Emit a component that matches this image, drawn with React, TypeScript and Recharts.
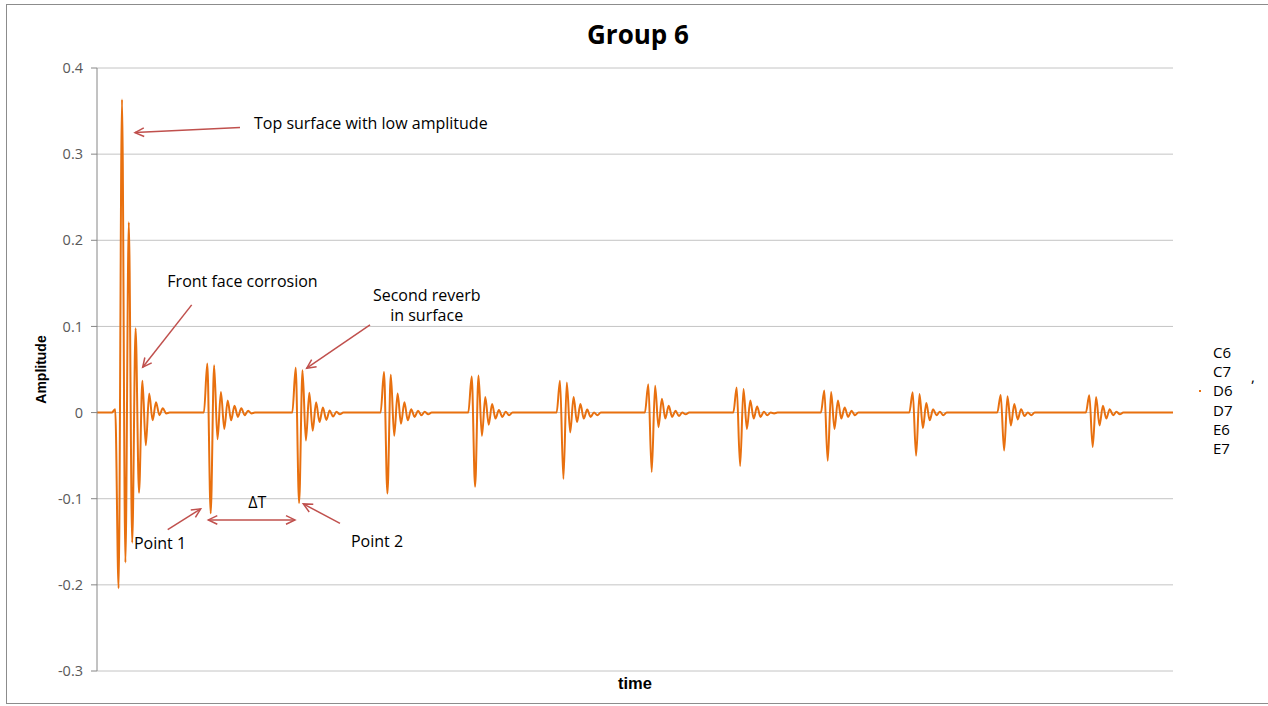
import { LineChart, Line, XAxis, YAxis, CartesianGrid, ReferenceLine, ReferenceDot, Legend } from 'recharts'

// time axis units: one unit per screen sample, sampled every STEP units inside each echo
const STEP = 3.4
const T_END = 1076

// start time of each echo burst
const burstStarts = [14.8, 106.9, 195.3, 283.6, 371.3, 459.6, 547.9, 636.3, 723.9, 812.3, 900.3, 988.9]

// amplitude samples of each burst (one value per STEP)
const topSurface = [0, 0.004, -0.204, 0.3635, -0.174, 0.221, -0.151, 0.098, -0.093, 0.037, -0.038, 0.022, -0.009, 0.012, -0.003, 0.005, -0.001, 0]
const echo1 = [0, 0.057, -0.117, 0.055, -0.031, 0.024, -0.019, 0.014, -0.009, 0.008, -0.005, 0.005, -0.003, 0.002, -0.001, 0]
const echo2 = [0, 0.052, -0.105, 0.049, -0.0325, 0.023, -0.021, 0.012, -0.011, 0.006, -0.0085, 0.0023, -0.0046, 0.001, -0.002, 0]
const echo3 = [0, 0.047, -0.094, 0.044, -0.027, 0.022, -0.013, 0.012, -0.009, 0.004, -0.005, 0.002, -0.003, 0.001, -0.002, 0]
const echo4 = [0, 0.042, -0.086, 0.043, -0.027, 0.018, -0.014, 0.01, -0.007, 0.003, -0.005, 0.001, -0.003, 0, 0]
const echo5 = [0, 0.037, -0.077, 0.035, -0.023, 0.018, -0.011, 0.01, -0.007, 0.0035, -0.005, 0, -0.003, 0]
const echo6 = [0, 0.033, -0.069, 0.031, -0.017, 0.016, -0.007, 0.008, -0.005, 0.002, -0.004, 0, -0.002, 0]
const echo7 = [0, 0.029, -0.062, 0.0275, -0.019, 0.014, -0.007, 0.007, -0.005, 0.001, -0.003, 0, -0.001, 0]
const echo8 = [0, 0.0255, -0.056, 0.024, -0.019, 0.014, -0.007, 0.006, -0.005, 0.002, -0.003, 0, 0]
const echo9 = [0, 0.0236, -0.05, 0.0217, -0.018, 0.011, -0.009, 0.004, -0.003, 0.001, -0.003, 0, 0]
const echo10 = [0, 0.0205, -0.044, 0.019, -0.015, 0.01, -0.008, 0.004, -0.004, 0, -0.003, 0, 0]
const echo11 = [0, 0.02, -0.04, 0.018, -0.015, 0.008, -0.007, 0.004, -0.003, 0.001, -0.002, 0, 0]

const bursts = [topSurface, echo1, echo2, echo3, echo4, echo5, echo6, echo7, echo8, echo9, echo10, echo11]

const seriesNames = ['C6', 'C7', 'D6', 'D7', 'E6', 'E7']
const yTicks = [-0.3, -0.2, -0.1, 0, 0.1, 0.2, 0.3, 0.4]

// annotation texts and arrows, in data coordinates
const notes = [
  { t: 157, y: 0.3357, text: 'Top surface with low amplitude', anchor: 'start' },
  { t: 145.5, y: 0.1525, text: 'Front face corrosion', anchor: 'middle' },
  { t: 329.7, y: 0.1365, text: 'Second reverb', anchor: 'middle' },
  { t: 329.7, y: 0.1132, text: 'in surface', anchor: 'middle' },
  { t: 160.3, y: -0.1042, text: '\u0394T', anchor: 'middle' },
  { t: 63, y: -0.1518, text: 'Point 1', anchor: 'middle' },
  { t: 280, y: -0.1487, text: 'Point 2', anchor: 'middle' },
]
const arrows = [
  { from: [143, 0.331], to: [38, 0.325], both: false },
  { from: [94.7, 0.125], to: [45.7, 0.0526], both: false },
  { from: [273, 0.1019], to: [209.7, 0.0515], both: false },
  { from: [111.3, -0.1246], to: [198, -0.1246], both: true },
  { from: [70.7, -0.1359], to: [103.7, -0.1118], both: false },
  { from: [243, -0.1286], to: [206.3, -0.106], both: false },
]

const data: { t: number; amp: number }[] = [{ t: 0, amp: 0 }]
bursts.forEach((vals, k) => {
  vals.forEach((v, i) => data.push({ t: +(burstStarts[k] + i * STEP).toFixed(2), amp: v }))
})
data.push({ t: T_END, amp: 0 })

const ARROW = '#C0504D'
const FONT = "'Open Sans', 'DejaVu Sans', sans-serif"
const NARROW = "'Liberation Sans Narrow', 'Liberation Sans', sans-serif"

function head(x: number, y: number, fx: number, fy: number) {
  const a = Math.atan2(y - fy, x - fx)
  const len = 10
  const spread = 0.45
  const p1 = [x - len * Math.cos(a - spread), y - len * Math.sin(a - spread)]
  const p2 = [x - len * Math.cos(a + spread), y - len * Math.sin(a + spread)]
  return `${p1[0]},${p1[1]} ${x},${y} ${p2[0]},${p2[1]}`
}

function arrowShape(both: boolean) {
  return (p: any) => (
    <g>
      <line x1={p.x1} y1={p.y1} x2={p.x2} y2={p.y2} stroke={ARROW} strokeWidth={1.5} />
      <polyline points={head(p.x2, p.y2, p.x1, p.y1)} fill="none" stroke={ARROW} strokeWidth={1.5} />
      {both && <polyline points={head(p.x1, p.y1, p.x2, p.y2)} fill="none" stroke={ARROW} strokeWidth={1.5} />}
    </g>
  )
}

function LegendList() {
  return (
    <div style={{ position: 'relative', width: 64, fontFamily: FONT, fontSize: 15, lineHeight: '19.2px', color: '#000' }}>
      <span style={{ position: 'absolute', left: 3, top: 47, width: 2, height: 2, background: '#E8700F' }} />
      <span style={{ position: 'absolute', left: 55, top: 24 }}>,</span>
      {seriesNames.map((n) => (
        <div key={n} style={{ paddingLeft: 17 }}>{n}</div>
      ))}
    </div>
  )
}

export default function App() {
  return (
    <div style={{ position: 'absolute', left: 0, top: 0, width: 1268, height: 706, background: '#fff' }}>
      <div style={{ position: 'absolute', left: 6, top: 4, width: 1262, height: 698, border: '1px solid #8c8c8c', borderRight: 'none' }} />
      <div style={{ position: 'absolute', left: 538, top: 16, width: 200, textAlign: 'center', fontFamily: FONT, fontWeight: 700, fontSize: 26, lineHeight: '36px', color: '#000' }}>
        Group 6
      </div>
      <div style={{ position: 'absolute', left: 0, top: 0 }}>
        <LineChart width={1268} height={706} data={data} margin={{ top: 68, right: 95, left: 37, bottom: 5 }}>
          <CartesianGrid vertical={false} stroke="#c4c4c4" strokeWidth={1} />
          <XAxis
            dataKey="t"
            type="number"
            domain={[0, T_END]}
            tick={false}
            tickLine={false}
            axisLine={false}
            height={30}
            label={{ value: 'time', position: 'insideBottom', offset: 12, fontFamily: NARROW, fontWeight: 700, fontSize: 16.5, fill: '#000' }}
          />
          <YAxis
            type="number"
            domain={[-0.3, 0.4]}
            ticks={yTicks}
            interval={0}
            width={60}
            stroke="#868686"
            tickSize={6}
            tickMargin={8}
            tick={{ fontFamily: FONT, fontSize: 14.5, fill: '#595959' }}
            tickFormatter={(v: number) => String(v)}
            label={{
              value: 'Amplitude',
              content: (p: any) => {
                const vb = p.viewBox
                const cx = vb.x + 4
                const cy = vb.y + vb.height / 2
                return (
                  <text x={cx} y={cy} transform={`rotate(-90 ${cx} ${cy})`} textAnchor="middle" dominantBaseline="central" fontFamily={NARROW} fontWeight={700} fontSize={14} fill="#000">
                    Amplitude
                  </text>
                )
              },
            }}
          />
          <Legend layout="vertical" align="center" verticalAlign="middle" wrapperStyle={{ left: 1196, top: 343, width: 64 }} content={() => <LegendList />} />
          <Line type="monotone" dataKey="amp" name="C6" stroke="#E8700F" strokeWidth={2} dot={false} activeDot={false} isAnimationActive={false} />
          {arrows.map((a, i) => (
            <ReferenceLine
              key={'a' + i}
              segment={[{ x: a.from[0], y: a.from[1] }, { x: a.to[0], y: a.to[1] }]}
              ifOverflow="visible"
              shape={arrowShape(a.both)}
            />
          ))}
          {notes.map((n, i) => (
            <ReferenceDot
              key={'n' + i}
              x={n.t}
              y={n.y}
              ifOverflow="visible"
              shape={(p: any) => (
                <text x={p.cx} y={p.cy} textAnchor={n.anchor as any} dominantBaseline="central" fontFamily={FONT} fontSize={16} fill="#000">
                  {n.text}
                </text>
              )}
            />
          ))}
        </LineChart>
      </div>
    </div>
  )
}
